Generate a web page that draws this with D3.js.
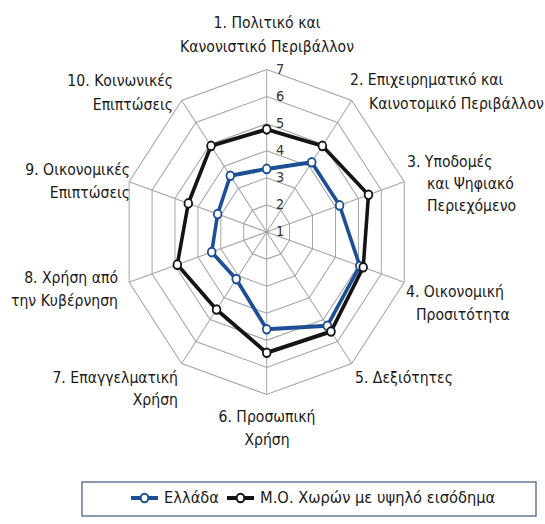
<!DOCTYPE html>
<html lang="el">
  <head>
    <meta charset="utf-8">
    <title>Radar</title>
    <script src="https://d3js.org/d3.v7.min.js"></script>
    <style>
      body { margin: 0; background: #fff; }
      text { font-family: "DejaVu Sans", sans-serif; fill: #1a1a1a; }
      .ticklbl { font-size: 14.5px; fill: #333; }
      .axlbl { font-size: 15.8px; }
      .leglbl { font-size: 16.5px; }
    </style>
  </head>
  <body>
    <div id="chart"></div>
    <script>
      // δεδομένα
      var categories = [
        ["1. Πολιτικό και", "Κανονιστικό Περιβάλλον"],
        ["2. Επιχειρηματικό και", "Καινοτομικό Περιβάλλον"],
        ["3. Υποδομές", "και Ψηφιακό", "Περιεχόμενο"],
        ["4. Οικονομική", "Προσιτότητα"],
        ["5. Δεξιότητες"],
        ["6. Προσωπική", "Χρήση"],
        ["7. Επαγγελματική", "Χρήση"],
        ["8. Χρήση από", "την Κυβέρνηση"],
        ["9. Οικονομικές", "Επιπτώσεις"],
        ["10. Κοινωνικές", "Επιπτώσεις"]
      ];
      var greece     = [3.33, 4.18, 4.18, 5.06, 5.28, 4.59, 3.15, 3.40, 3.14, 3.57];
      var highIncome = [4.79, 4.93, 5.44, 5.21, 5.54, 5.46, 4.54, 4.90, 4.42, 4.93];
      var tickValues = [1, 2, 3, 4, 5, 6, 7];
      var seriesNames = ["Ελλάδα", "Μ.Ο. Χωρών με υψηλό εισόδημα"];

      // θέσεις ετικετών (x ανά γραμμή, y ανά γραμμή)
      var labelLayout = [
        {anchor: "middle", x: [267, 267], y: [28, 52]},
        {anchor: "start",  x: [350, 369], y: [85, 109]},
        {anchor: "start",  x: [407, 427, 427], y: [167, 189, 211]},
        {anchor: "start",  x: [406, 416], y: [297, 320]},
        {anchor: "start",  x: [355], y: [383]},
        {anchor: "middle", x: [267, 267], y: [422, 445]},
        {anchor: "end",    x: [178, 178], y: [383, 405]},
        {anchor: "end",    x: [118, 118], y: [283, 306]},
        {anchor: "end",    x: [130, 130], y: [175, 198]},
        {anchor: "end",    x: [173, 173], y: [86, 110]}
      ];

      var W = 545, H = 524;
      var cx = 266.7, cy = 232, sx = 0.89;   // η εικόνα είναι στενεμένη οριζόντια
      var blue = "#1d4f96", black = "#141414", grid = "#a3a3a3";

      var svg = d3.select("#chart").append("svg")
        .attr("width", W).attr("height", H);

      var r = d3.scaleLinear().domain([1, 7]).range([0, 162.5]);
      var ang = d3.scaleLinear().domain([0, categories.length]).range([0, 2 * Math.PI]);

      var g = svg.append("g")
        .attr("transform", "translate(" + cx + "," + cy + ") scale(" + sx + ",1)");

      var radial = d3.lineRadial().curve(d3.curveLinearClosed);

      // δακτύλιοι
      g.selectAll("path.ring")
        .data(tickValues.slice(1))
        .enter().append("path")
          .attr("class", "ring")
          .attr("d", t => radial(categories.map((c, i) => [ang(i), r(t)])))
          .attr("fill", "none")
          .attr("stroke", grid)
          .attr("stroke-width", 1.1);

      // ακτίνες
      g.selectAll("line.spoke")
        .data(categories)
        .enter().append("line")
          .attr("x1", 0).attr("y1", 0)
          .attr("x2", (d, i) => r(7) * Math.sin(ang(i)))
          .attr("y2", (d, i) => -r(7) * Math.cos(ang(i)))
          .attr("stroke", grid)
          .attr("stroke-width", 1.1);

      // σειρές
      function drawSeries(vals, col) {
        var pts = vals.map((v, i) => [ang(i), r(v)]);
        g.append("path")
          .attr("d", radial(pts))
          .attr("fill", "none")
          .attr("stroke", col)
          .attr("stroke-width", 4)
          .attr("stroke-linejoin", "round");
        g.selectAll(null)
          .data(vals)
          .enter().append("circle")
            .attr("cx", (v, i) => r(v) * Math.sin(ang(i)))
            .attr("cy", (v, i) => -r(v) * Math.cos(ang(i)))
            .attr("r", 4.3)
            .attr("fill", "#fff")
            .attr("stroke", col)
            .attr("stroke-width", 2);
      }
      drawSeries(greece, blue);
      drawSeries(highIncome, black);

      // ετικέτες κλίμακας
      svg.selectAll("text.ticklbl")
        .data(tickValues)
        .enter().append("text")
          .attr("class", "ticklbl")
          .attr("text-anchor", "middle")
          .attr("dominant-baseline", "central")
          .attr("transform", t => "translate(280," + (cy - r(t) - 1) + ") scale(" + sx + ",1)")
          .text(t => t);

      // ετικέτες αξόνων
      categories.forEach(function(lines, i) {
        var L = labelLayout[i];
        svg.selectAll(null)
          .data(lines)
          .enter().append("text")
            .attr("class", "axlbl")
            .attr("text-anchor", L.anchor)
            .attr("transform", (d, j) => "translate(" + L.x[j] + "," + L.y[j] + ") scale(" + sx + ",1)")
            .text(d => d);
      });

      // υπόμνημα
      var leg = svg.append("g");
      leg.append("rect")
        .attr("x", 82).attr("y", 482).attr("width", 454).attr("height", 34)
        .attr("fill", "#fff").attr("stroke", "#4f6485").attr("stroke-width", 1.3);

      var legItems = [
        {name: seriesNames[0], col: blue, x: 131},
        {name: seriesNames[1], col: black, x: 227}
      ];
      legItems.forEach(function(it) {
        var y = 498;
        leg.append("line")
          .attr("x1", it.x).attr("x2", it.x + 27)
          .attr("y1", y).attr("y2", y)
          .attr("stroke", it.col).attr("stroke-width", 4);
        leg.append("ellipse")
          .attr("cx", it.x + 13.5).attr("cy", y)
          .attr("rx", 4.3 * sx).attr("ry", 4.3)
          .attr("fill", "#fff").attr("stroke", it.col).attr("stroke-width", 2);
        leg.append("text")
          .attr("class", "leglbl")
          .attr("transform", "translate(" + (it.x + 33) + "," + (y + 5) + ") scale(" + sx + ",1)")
          .text(it.name);
      });
    </script>
  </body>
</html>
